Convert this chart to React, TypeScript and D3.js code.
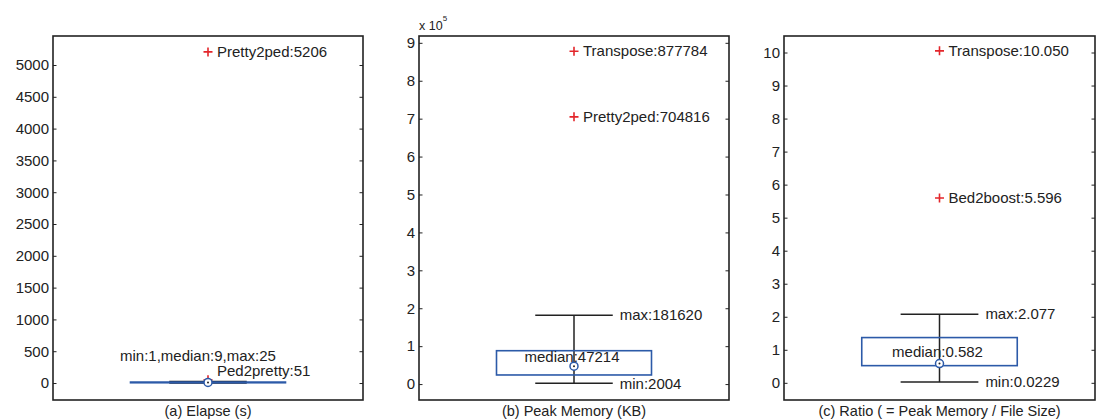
import React, { useEffect, useRef } from 'react';
import * as d3 from 'd3';

// one box per panel
const captions = ['(a) Elapse (s)', '(b) Peak Memory (KB)', '(c) Ratio ( = Peak Memory / File Size)'];
const mins = [1, 2004, 0.0229];
const q1s = [4, 24000, 0.52];
const medians = [9, 47214, 0.582];
const q3s = [15, 88000, 1.37];
const maxs = [25, 181620, 2.077];
const outlierNames = [['Pretty2ped', 'Ped2pretty'], ['Transpose', 'Pretty2ped'], ['Transpose', 'Bed2boost']];
const outlierValues = [[5206, 51], [877784, 704816], [10.05, 5.596]];
const yTicks = [
  [0, 500, 1000, 1500, 2000, 2500, 3000, 3500, 4000, 4500, 5000],
  [0, 1, 2, 3, 4, 5, 6, 7, 8, 9],
  [0, 1, 2, 3, 4, 5, 6, 7, 8, 9, 10],
];
const yDomains = [[-267, 5456], [-0.42, 9.18], [-0.52, 10.5]];
const tickScale = [1, 1e5, 1];

const BLUE = '#2c5aa8';
const RED = '#e3262b';
const INK = '#222';
const FONT = '"Liberation Sans", Arial, Helvetica, sans-serif';
const FS = '15px';

function fmt(i: number, v: number) {
  return i === 2 ? v.toFixed(3) : String(v);
}

function ChartCom() {
  const svgRef = useRef<SVGSVGElement>(null);

  useEffect(() => {
    const svg = d3.select(svgRef.current);
    svg.selectAll('*').remove();
    const frames = [[53, 363], [419, 729], [784, 1095]];
    const medDy = [0, -4, -7];
    const top = 36;
    const bottom = 400;

    captions.forEach((cap, i) => {
      const [x0, x1] = frames[i];
      const x = d3.scaleLinear().domain([0.5, 1.5]).range([x0, x1]);
      const s = tickScale[i];
      const y = d3.scaleLinear().domain(yDomains[i].map((d) => d * s)).range([bottom, top]);
      const g = svg.append('g').style('font-family', FONT).style('font-size', FS).attr('fill', INK);

      const left = g
        .append('g')
        .attr('transform', `translate(${x0},0)`)
        .call(
          d3.axisLeft(y)
            .tickValues(yTicks[i].map((d) => d * s))
            .tickFormat((d) => String(+d / s))
            .tickSizeInner(-3.5)
            .tickSizeOuter(0)
            .tickPadding(4)
        );
      left.select('.domain').remove();
      left.selectAll('text').style('font-size', FS).style('font-family', FONT).attr('fill', INK);
      left.selectAll('line').attr('stroke', INK);

      const right = g
        .append('g')
        .attr('transform', `translate(${x1},0)`)
        .call(d3.axisRight(y).tickValues(yTicks[i].map((d) => d * s)).tickFormat(() => '').tickSizeInner(-3.5).tickSizeOuter(0));
      right.select('.domain').remove();
      right.selectAll('line').attr('stroke', INK);

      g.append('rect')
        .attr('x', x0)
        .attr('y', top)
        .attr('width', x1 - x0)
        .attr('height', bottom - top)
        .attr('fill', 'none')
        .attr('stroke', INK)
        .attr('stroke-width', 1.6);

      // whisker
      g.append('line')
        .attr('x1', x(1)).attr('x2', x(1))
        .attr('y1', y(mins[i])).attr('y2', y(maxs[i]))
        .attr('stroke', INK).attr('stroke-width', 1.5);
      [mins[i], maxs[i]].forEach((v) => {
        g.append('line')
          .attr('x1', x(0.875)).attr('x2', x(1.125))
          .attr('y1', y(v)).attr('y2', y(v))
          .attr('stroke', INK).attr('stroke-width', 1.5);
      });

      // box
      g.append('rect')
        .attr('x', x(0.75))
        .attr('y', y(q3s[i]))
        .attr('width', x(1.25) - x(0.75))
        .attr('height', Math.max(0.5, y(q1s[i]) - y(q3s[i])))
        .attr('fill', 'none')
        .attr('stroke', BLUE)
        .attr('stroke-width', 1.6);

      // outliers
      outlierValues[i].forEach((v, j) => {
        const cx = x(1);
        const cy = y(v);
        g.append('path')
          .attr('d', `M${cx - 4.5},${cy}H${cx + 4.5}M${cx},${cy - 4.5}V${cy + 4.5}`)
          .attr('stroke', RED)
          .attr('stroke-width', 1.6);
        const lab = g
          .append('text')
          .attr('x', cx + 9)
          .text(`${outlierNames[i][j]}:${fmt(i, v)}`);
        if (i === 0 && j === 1) lab.attr('y', 376);
        else lab.attr('y', cy).attr('dy', '0.35em');
      });

      // median marker
      g.append('circle')
        .attr('cx', x(1)).attr('cy', y(medians[i])).attr('r', 4)
        .attr('fill', 'white').attr('stroke', BLUE).attr('stroke-width', 1.5);
      g.append('circle').attr('cx', x(1)).attr('cy', y(medians[i])).attr('r', 1).attr('fill', INK);

      if (i === 0) {
        g.append('text')
          .attr('x', x(1) - 88)
          .attr('y', 361)
          .text(`min:${mins[i]},median:${medians[i]},max:${maxs[i]}`);
      } else {
        g.append('text')
          .attr('x', x(1) - 2)
          .attr('y', y(medians[i]) + medDy[i])
          .attr('text-anchor', 'middle')
          .text(`median:${medians[i]}`);
        g.append('text')
          .attr('x', x(1.125) + 7)
          .attr('y', y(maxs[i]))
          .attr('dy', '0.35em')
          .text(`max:${maxs[i]}`);
        g.append('text')
          .attr('x', x(1.125) + 7)
          .attr('y', y(mins[i]))
          .attr('dy', '0.35em')
          .text(`min:${mins[i]}`);
      }

      g.append('text')
        .attr('x', (x0 + x1) / 2)
        .attr('y', 416)
        .attr('text-anchor', 'middle')
        .style('font-size', '14.5px')
        .text(cap);

      if (s !== 1) {
        const e = g.append('text').attr('x', x0).attr('y', 30).style('font-size', '12.5px');
        e.append('tspan').text('x 10');
        e.append('tspan').attr('dy', -9).style('font-size', '8px').text(String(Math.log10(s)));
      }
    });
  }, []);

  return (
    <svg
      ref={svgRef}
      width={1097}
      height={420}
      style={{ position: 'absolute', left: 0, top: 0, background: 'white' }}
    />
  );
}

export default function App() {
  return <ChartCom />;
}
